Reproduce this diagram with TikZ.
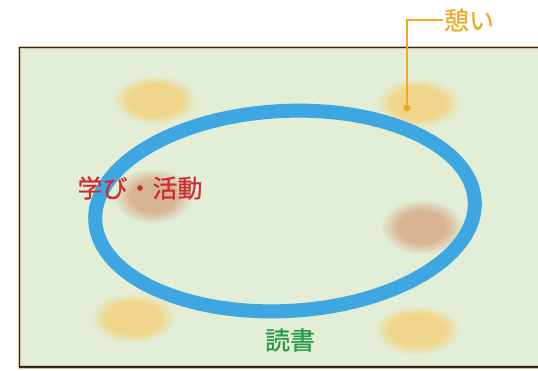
\documentclass[tikz,border=0pt]{standalone}
\usepackage{fontspec}
\newfontfamily\jpfont[FakeBold=0.8]{Noto Sans CJK JP}
\usetikzlibrary{positioning}
\usepackage{xcolor}
\definecolor{bggreen}{RGB}{226, 238, 214}
\definecolor{blobyellow}{RGB}{240, 214, 138}
\definecolor{blobbrown}{RGB}{216, 180, 146}
\definecolor{ringblue}{RGB}{62, 166, 224}
\definecolor{restorange}{RGB}{240, 170, 40}
\definecolor{learnred}{RGB}{205, 45, 50}
\definecolor{readgreen}{RGB}{40, 155, 75}
\definecolor{edgedark}{RGB}{50, 40, 30}
\definecolor{edgetan}{RGB}{222, 190, 160}
\pgfdeclareradialshading{yblob}{\pgfpointorigin}{color(0bp)=(blobyellow); color(16bp)=(blobyellow); color(25bp)=(bggreen); color(50bp)=(bggreen)}
\pgfdeclareradialshading{bblob}{\pgfpointorigin}{color(0bp)=(blobbrown); color(14bp)=(blobbrown); color(25bp)=(bggreen); color(50bp)=(bggreen)}

\begin{document}
\begin{tikzpicture}[
    x=1pt, y=-1pt,
    font=\jpfont\fontsize{25}{25}\selectfont,
    lbl/.style={inner sep=1pt},
    ring/.style={draw=ringblue, line width=14pt},
    leader/.style={draw=restorange, line width=2.5pt},
    edgeout/.style={draw=edgetan, line width=3.5pt},
    edgein/.style={draw=edgedark, line width=1.8pt},
]
\useasboundingbox (0,0) rectangle (538,370);

% === ROOM ===
\fill[bggreen] (19.5,47.5) rectangle (545,367);

% Yellow spots
\shade[shading=yblob] (155,100) ellipse [x radius=42, y radius=25];
\shade[shading=yblob] (418,103) ellipse [x radius=42, y radius=25];
\shade[shading=yblob] (133,318) ellipse [x radius=43, y radius=25];
\shade[shading=yblob] (417,330) ellipse [x radius=43, y radius=25];

% Brown spots
\shade[shading=bblob] (153,196) ellipse [x radius=40, y radius=28];
\shade[shading=bblob] (422,227) ellipse [x radius=42, y radius=28];

% Walls
\draw[edgeout] (545,47.5) -- (19.5,47.5) -- (19.5,367) -- (545,367);
\draw[edgein] (545,47.5) -- (19.5,47.5) -- (19.5,367) -- (545,367);

% === RING ===
\draw[ring, rotate around={3:(285,211)}] (285,211) ellipse [x radius=190, y radius=100];

% === LABELS ===
\node[lbl, text=restorange] (rest) at (469,20) {憩い};
\coordinate (restdot) at (407,108);
\draw[leader] (rest.west) -| (restdot);
\fill[restorange] (restdot) circle (3.5);

\node[lbl, text=learnred] (learn) at (140,188) {学び・活動};
\node[lbl, text=readgreen] (read) at (290,340) {読書};

\end{tikzpicture}
\end{document}
